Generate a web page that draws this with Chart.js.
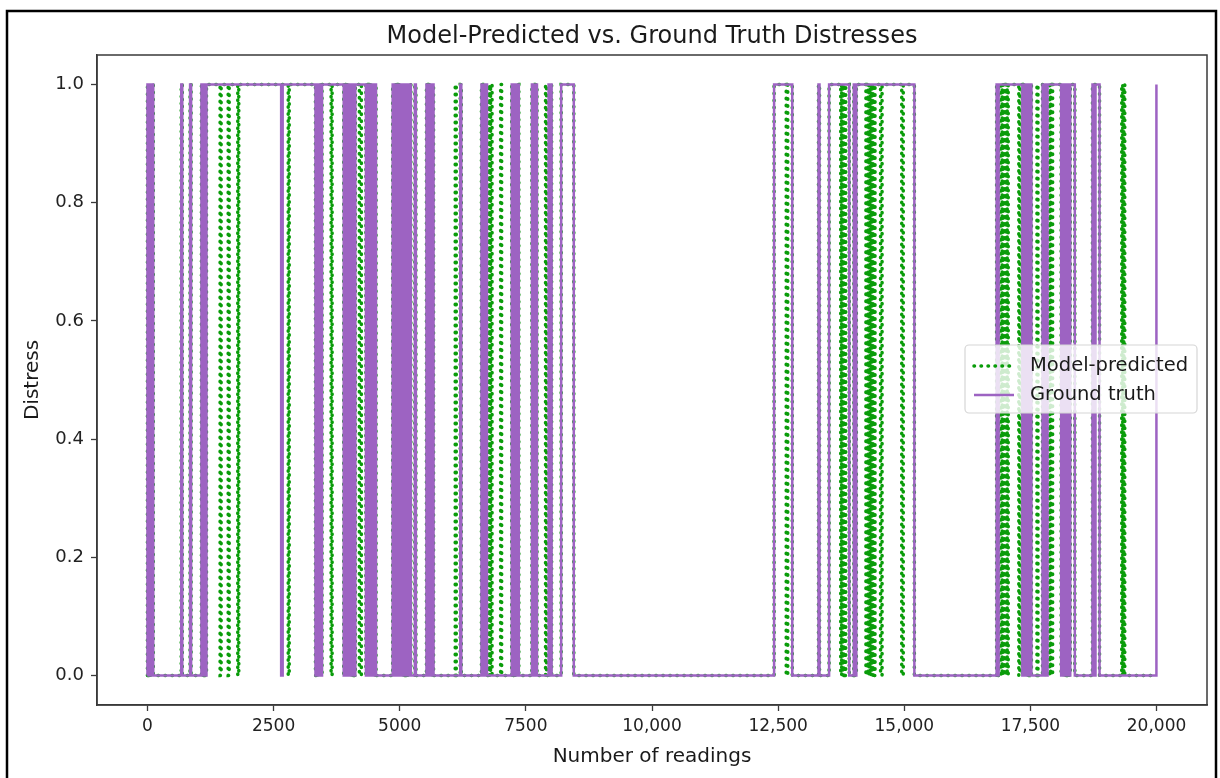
<!DOCTYPE html>
<html>
<head>
<meta charset="utf-8">
<title>Model-Predicted vs. Ground Truth Distresses</title>
<script src="https://cdn.jsdelivr.net/npm/chart.js@4.4.1/dist/chart.umd.min.js"></script>
<style>
    html, body { margin: 0; padding: 0; background: #fff; }
    #wrap { position: relative; width: 1220px; height: 778px; }
</style>
</head>
<body>
<div id="wrap"><canvas id="distressChart" width="1220" height="778"></canvas></div>
<script>
// Reading index where each series sits at 1 (start, end); everything else is 0
const totalReadings = 20000;

const truthOn = [
    [0, 20], [40, 60], [80, 115],
    [670, 690],
    [845, 865],
    [1070, 1090], [1120, 1140], [1170, 2650], [2680, 3330], [3360, 3380], [3410, 3430], [3460, 3890],
    [3920, 3940], [3960, 3980], [4000, 4020], [4040, 4060], [4080, 4100], [4120, 4330],
    [4350, 4370], [4390, 4410], [4430, 4450], [4470, 4490], [4510, 4530],
    [4860, 4880], [4900, 4920], [4940, 4960], [4980, 5000], [5020, 5040], [5060, 5080],
    [5100, 5120], [5140, 5160], [5180, 5220],
    [5300, 5320], [5530, 5550], [5580, 5600], [5640, 5670],
    [6200, 6220],
    [6620, 6640], [6690, 6730],
    [7220, 7240], [7270, 7290], [7330, 7360],
    [7620, 7640], [7690, 7720],
    [7950, 7970], [7990, 8010],
    [8200, 8450],
    [12420, 12780],
    [13300, 13320],
    [13510, 13910],
    [14000, 14020], [14050, 15200],
    [16830, 16850], [16870, 17340], [17370, 17390], [17420, 17440], [17470, 17520],
    [17740, 17760], [17790, 17810], [17840, 18110], [18140, 18160], [18190, 18210],
    [18240, 18260], [18290, 18380],
    [18730, 18760], [18790, 18870],
    [19990, 20000]
];

const predictedOn = [
    [0, 20], [40, 60], [80, 115],
    [670, 690],
    [845, 865],
    [1070, 1090], [1120, 1140], [1170, 1440], [1460, 1600], [1620, 1790], [1810, 2790],
    [2810, 3330], [3360, 3380], [3410, 3430], [3460, 3640], [3660, 3890],
    [3920, 3940], [3960, 3980], [4000, 4020], [4040, 4060], [4080, 4100], [4120, 4200], [4240, 4330],
    [4350, 4370], [4390, 4410], [4430, 4450], [4470, 4490], [4510, 4530],
    [4860, 4880], [4900, 4920], [4940, 4960], [4980, 5000], [5020, 5040], [5060, 5080],
    [5100, 5120], [5140, 5160], [5180, 5220],
    [5300, 5320], [5530, 5550], [5580, 5600], [5640, 5670],
    [6100, 6120], [6200, 6220],
    [6620, 6640], [6690, 6730], [6760, 6780], [6800, 6830], [7000, 7020],
    [7220, 7240], [7270, 7290], [7330, 7360],
    [7620, 7640], [7690, 7720],
    [7890, 7910],
    [7950, 7970], [7990, 8010],
    [8200, 8450],
    [12420, 12660], [12690, 12780],
    [13300, 13320],
    [13510, 13740], [13760, 13780], [13800, 13820], [13840, 13910],
    [14000, 14020], [14050, 14240], [14260, 14280], [14300, 14320], [14340, 14360],
    [14380, 14400], [14420, 14530], [14560, 14950], [14980, 15200],
    [16830, 16850], [16870, 16920], [16940, 16960], [16980, 17000], [17020, 17040],
    [17060, 17270], [17290, 17340], [17370, 17390], [17420, 17440], [17470, 17520],
    [17630, 17650],
    [17740, 17760], [17790, 17880], [17900, 17920], [17940, 18110], [18140, 18160],
    [18170, 18190], [18210, 18230], [18250, 18270], [18290, 18380],
    [18730, 18870],
    [19310, 19330], [19350, 19370]
];

const xTicks = [0, 2500, 5000, 7500, 10000, 12500, 15000, 17500, 20000];
const xTickLabels = ['0', '2500', '5000', '7500', '10,000', '12,500', '15,000', '17,500', '20,000'];
const yTicks = [0, 0.2, 0.4, 0.6, 0.8, 1.0];
const yTickLabels = ['0.0', '0.2', '0.4', '0.6', '0.8', '1.0'];

const chartTitle = 'Model-Predicted vs. Ground Truth Distresses';
const purple = '#9d63c2';
const green = '#0a9c0a';
const fontFamily = '"DejaVu Sans", sans-serif';

// turn on/off intervals into a square wave the line element can trace
function toSquareWave(intervals) {
    const points = [{x: 0, y: 0}];
    intervals.forEach(([start, end]) => {
        points.push({x: start, y: 0}, {x: start, y: 1}, {x: end, y: 1}, {x: end, y: 0});
    });
    points.push({x: totalReadings, y: 0});
    return points;
}

// title centred over the axes rather than the whole canvas
const axesTitle = {
    id: 'axesTitle',
    afterDraw(chart) {
        const {ctx, chartArea: a} = chart;
        ctx.save();
        ctx.font = '24px ' + fontFamily;
        ctx.fillStyle = '#1a1a1a';
        ctx.textAlign = 'center';
        ctx.textBaseline = 'middle';
        ctx.fillText(chartTitle, (a.left + a.right) / 2, 37);
        ctx.restore();
    }
};

// matplotlib-like legend box sitting inside the axes
const legendBox = {
    id: 'legendBox',
    afterDatasetsDraw(chart) {
        const ctx = chart.ctx;
        const x = 965, y = 345, w = 232, h = 68;
        ctx.save();
        ctx.beginPath();
        ctx.roundRect(x, y, w, h, 4);
        ctx.fillStyle = 'rgba(255,255,255,0.8)';
        ctx.fill();
        ctx.strokeStyle = '#d6d6d6';
        ctx.lineWidth = 1.2;
        ctx.stroke();

        ctx.font = '19.5px ' + fontFamily;
        ctx.textBaseline = 'middle';
        ctx.fillStyle = '#1a1a1a';
        chart.data.datasets.forEach((ds, i) => {
            const rowY = y + 21 + i * 29;
            ctx.beginPath();
            ctx.moveTo(974, rowY);
            ctx.lineTo(1014, rowY);
            ctx.strokeStyle = ds.borderColor;
            ctx.lineWidth = ds.borderWidth;
            ctx.lineCap = ds.borderCapStyle || 'butt';
            ctx.setLineDash(ds.borderDash || []);
            ctx.stroke();
            ctx.setLineDash([]);
            ctx.fillText(ds.label, 1030, rowY);
        });
        ctx.restore();
    }
};

// axes frame on all four sides plus the outer figure border
const frame = {
    id: 'frame',
    afterDraw(chart) {
        const {ctx, chartArea: a} = chart;
        ctx.save();
        ctx.strokeStyle = '#3a3a3a';
        ctx.lineWidth = 1.5;
        ctx.strokeRect(a.left, a.top, a.right - a.left, a.bottom - a.top);
        ctx.strokeStyle = '#000';
        ctx.lineWidth = 2.5;
        ctx.beginPath();
        ctx.moveTo(7, 778);
        ctx.lineTo(7, 11);
        ctx.lineTo(1216, 11);
        ctx.lineTo(1216, 778);
        ctx.stroke();
        ctx.restore();
    }
};

const whiteBackground = {
    id: 'whiteBackground',
    beforeDraw(chart) {
        const ctx = chart.ctx;
        ctx.save();
        ctx.fillStyle = '#fff';
        ctx.fillRect(0, 0, chart.width, chart.height);
        ctx.restore();
    }
};

new Chart(document.getElementById('distressChart').getContext('2d'), {
    type: 'line',
    data: {
        datasets: [
            {
                label: 'Model-predicted',
                data: toSquareWave(predictedOn),
                borderColor: green,
                borderWidth: 3.5,
                borderDash: [0.5, 6.5],
                borderCapStyle: 'round',
                pointRadius: 0,
                fill: false,
                tension: 0,
                order: 1
            },
            {
                label: 'Ground truth',
                data: toSquareWave(truthOn),
                borderColor: purple,
                borderWidth: 2.5,
                pointRadius: 0,
                fill: false,
                tension: 0,
                order: 0
            }
        ]
    },
    options: {
        responsive: false,
        animation: false,
        events: [],
        parsing: false,
        normalized: true,
        layout: {padding: {left: 0, right: 13, top: 55, bottom: 0}},
        plugins: {
            legend: {display: false},
            tooltip: {enabled: false},
            title: {display: false}
        },
        scales: {
            x: {
                type: 'linear',
                min: -1000,
                max: 21000,
                afterBuildTicks: scale => { scale.ticks = xTicks.map(v => ({value: v})); },
                afterFit: scale => { scale.height = 73; },
                ticks: {
                    color: '#222',
                    font: {family: fontFamily, size: 17},
                    padding: 5,
                    maxRotation: 0,
                    autoSkip: false,
                    callback: (value, index) => xTickLabels[index]
                },
                grid: {drawOnChartArea: false, drawTicks: true, tickLength: 6, color: '#3a3a3a', tickWidth: 1.3},
                border: {display: true, color: '#3a3a3a', width: 1.5},
                title: {
                    display: true,
                    text: 'Number of readings',
                    color: '#1a1a1a',
                    font: {family: fontFamily, size: 20, lineHeight: 1.2},
                    padding: {top: 0, bottom: 9}
                }
            },
            y: {
                type: 'linear',
                min: -0.05,
                max: 1.05,
                afterBuildTicks: scale => { scale.ticks = yTicks.map(v => ({value: v})); },
                afterFit: scale => { scale.width = 97; },
                ticks: {
                    color: '#222',
                    font: {family: fontFamily, size: 18},
                    padding: 7,
                    callback: (value, index) => yTickLabels[index]
                },
                grid: {drawOnChartArea: false, drawTicks: true, tickLength: 6, color: '#3a3a3a', tickWidth: 1.3},
                border: {display: true, color: '#3a3a3a', width: 1.5},
                title: {
                    display: true,
                    text: 'Distress',
                    color: '#1a1a1a',
                    font: {family: fontFamily, size: 20, lineHeight: 1.2},
                    padding: {top: 21, bottom: 0}
                }
            }
        }
    },
    plugins: [whiteBackground, legendBox, axesTitle, frame]
});
</script>
</body>
</html>
